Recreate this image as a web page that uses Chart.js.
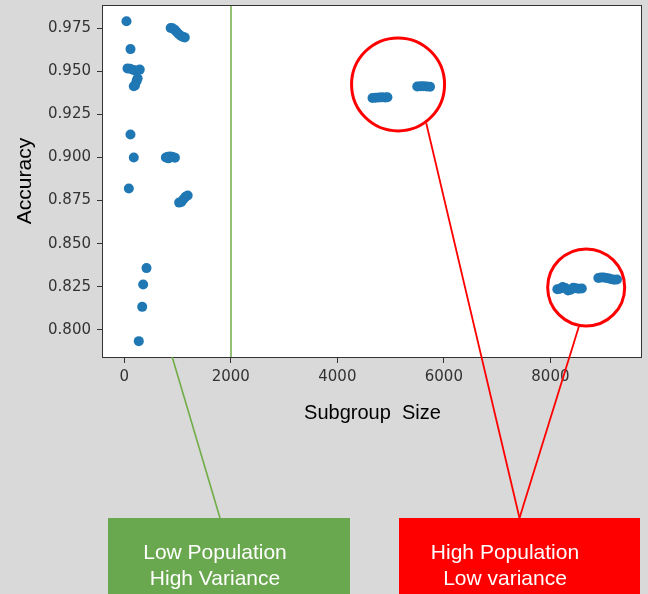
<!DOCTYPE html>
<html lang="en">
<head>
  <meta charset="UTF-8" />
  <title>Accuracy vs Subgroup Size</title>
  <script src="https://cdn.jsdelivr.net/npm/chart.js"></script>
  <style>
    * {
      margin: 0;
      padding: 0;
      box-sizing: border-box;
    }

    body {
      background-color: #d9d9d9;
      width: 648px;
      height: 594px;
      overflow: hidden;
    }
  </style>
</head>

<body>
  <canvas id="accChart" width="648" height="594"></canvas>

  <script>
    // subgroup sizes and the accuracy reached for each subgroup
    const subgroupSize = [
      41, 116, 60, 110, 170, 230, 290, 250, 230, 200, 178,
      116, 178, 85, 417, 354, 336, 272,
      870, 905, 945, 985, 1025, 1065, 1105, 1135,
      780, 820, 865, 910, 950, 830,
      1030, 1070, 1110, 1150, 1190,
      4660, 4720, 4780, 4840, 4900, 4940,
      5500, 5560, 5620, 5680, 5740,
      8130, 8180, 8230, 8280, 8330, 8380, 8430, 8480, 8530, 8590,
      8900, 8950, 9000, 9050, 9100, 9150, 9200, 9250
    ];
    const accuracy = [
      0.9791, 0.9629, 0.9517, 0.9515, 0.9508, 0.9505, 0.9510, 0.9460, 0.9443, 0.9418, 0.9413,
      0.9133, 0.9000, 0.8820, 0.8358, 0.8263, 0.8133, 0.7934,
      0.9752, 0.9750, 0.9742, 0.9728, 0.9715, 0.9705, 0.9699, 0.9697,
      0.9000, 0.9004, 0.9006, 0.9003, 0.8999, 0.8995,
      0.8738, 0.8742, 0.8758, 0.8772, 0.8779,
      0.9345, 0.9347, 0.9348, 0.9349, 0.9348, 0.9350,
      0.9412, 0.9414, 0.9413, 0.9412, 0.9411,
      0.8235, 0.8238, 0.8248, 0.8242, 0.8228, 0.8232, 0.8244, 0.8241, 0.8238, 0.8240,
      0.8300, 0.8303, 0.8303, 0.8301, 0.8298, 0.8293, 0.8291, 0.8292
    ];

    const xTicks = [0, 2000, 4000, 6000, 8000];
    const yTicks = [0.800, 0.825, 0.850, 0.875, 0.900, 0.925, 0.950, 0.975];

    const threshold = 2000;

    // highlighted clusters (centre in data units)
    const circleX = [5140, 8672];
    const circleY = [0.9424, 0.8246];

    const lowLabel = ['Low Population', 'High Variance'];
    const highLabel = ['High Population', 'Low variance'];

    const annotations = {
      id: 'annotations',
      beforeDraw(chart) {
        const { ctx, chartArea: a } = chart;
        ctx.save();
        ctx.fillStyle = '#ffffff';
        ctx.fillRect(a.left, a.top, a.width, a.height);
        ctx.restore();
      },
      beforeDatasetsDraw(chart) {
        const { ctx, chartArea: a, scales } = chart;
        const x = Math.round(scales.x.getPixelForValue(threshold));
        ctx.save();
        ctx.strokeStyle = '#70ad47';
        ctx.lineWidth = 1.5;
        ctx.beginPath();
        ctx.moveTo(x, a.top);
        ctx.lineTo(x, a.bottom);
        ctx.stroke();
        ctx.restore();
      },
      afterDraw(chart) {
        const { ctx, chartArea: a, scales } = chart;
        ctx.save();

        // frame round the plot
        ctx.strokeStyle = '#333';
        ctx.lineWidth = 1;
        ctx.strokeRect(a.left - 0.5, a.top + 0.5, a.width, a.height);

        // boxes at the bottom
        const boxTop = 518;
        const boxes = [
          { left: 108, right: 350, color: '#6aa84f', lines: lowLabel, textX: 215 },
          { left: 399, right: 640, color: '#ff0000', lines: highLabel, textX: 505 }
        ];
        boxes.forEach(b => {
          ctx.fillStyle = b.color;
          ctx.fillRect(b.left, boxTop, b.right - b.left, 594 - boxTop);
          ctx.fillStyle = '#ffffff';
          ctx.font = '21px "Liberation Sans", Arial, sans-serif';
          ctx.textAlign = 'center';
          ctx.textBaseline = 'alphabetic';
          ctx.fillText(b.lines[0], b.textX, 559);
          ctx.fillText(b.lines[1], b.textX, 585);
        });

        // green pointer from axis to the low box
        ctx.strokeStyle = '#70ad47';
        ctx.lineWidth = 1.6;
        ctx.beginPath();
        ctx.moveTo(scales.x.getPixelForValue(899), a.bottom);
        ctx.lineTo(220, boxTop);
        ctx.stroke();

        // red circles and pointers
        const radius = [46.5, 38.5];
        const angle = [54, 100.6];
        const target = { x: 519.5, y: boxTop };
        ctx.strokeStyle = '#ff0000';
        circleX.forEach((cx, i) => {
          const px = scales.x.getPixelForValue(cx);
          const py = scales.y.getPixelForValue(circleY[i]);
          ctx.lineWidth = 3;
          ctx.beginPath();
          ctx.arc(px, py, radius[i], 0, Math.PI * 2);
          ctx.stroke();

          const t = angle[i] * Math.PI / 180;
          ctx.lineWidth = 1.8;
          ctx.beginPath();
          ctx.moveTo(px + (radius[i] + 1.5) * Math.cos(t), py + (radius[i] + 1.5) * Math.sin(t));
          ctx.lineTo(target.x, target.y);
          ctx.stroke();
        });

        ctx.restore();
      }
    };

    const ctx = document.getElementById('accChart').getContext('2d');

    const accChart = new Chart(ctx, {
      type: 'scatter',
      data: {
        datasets: [{
          label: 'Accuracy',
          data: subgroupSize.map((s, i) => ({ x: s, y: accuracy[i] })),
          backgroundColor: '#1f77b4',
          borderWidth: 0,
          pointRadius: 5,
          pointHoverRadius: 5
        }]
      },
      options: {
        responsive: false,
        animation: false,
        devicePixelRatio: 1,
        layout: {
          padding: { top: 5, right: 6, left: 0, bottom: 0 }
        },
        plugins: {
          legend: { display: false },
          tooltip: { enabled: false }
        },
        scales: {
          x: {
            type: 'linear',
            min: -400,
            max: 9720,
            afterBuildTicks: s => { s.ticks = xTicks.map(v => ({ value: v })); },
            afterFit: s => {
              s.height = 237;
              s.paddingLeft = 0;
              s.paddingRight = 0;
            },
            border: { display: false },
            grid: { drawOnChartArea: false, tickLength: 6, tickColor: '#333' },
            ticks: {
              autoSkip: false,
              maxRotation: 0,
              padding: 5,
              color: '#333',
              font: { family: 'DejaVu Sans', size: 15 },
              callback: v => String(v)
            },
            title: {
              display: true,
              text: 'Subgroup  Size',
              color: '#000',
              font: { family: 'Liberation Sans', size: 20 },
              padding: { top: 0, bottom: 169 }
            }
          },
          y: {
            min: 0.7842,
            max: 0.9885,
            afterBuildTicks: s => { s.ticks = yTicks.map(v => ({ value: v })); },
            afterFit: s => {
              s.width = 103;
              s.paddingTop = 0;
              s.paddingBottom = 0;
            },
            border: { display: false },
            grid: { drawOnChartArea: false, tickLength: 6, tickColor: '#333' },
            ticks: {
              autoSkip: false,
              padding: 6,
              color: '#333',
              font: { family: 'DejaVu Sans', size: 15 },
              callback: v => v.toFixed(3)
            },
            title: {
              display: true,
              text: 'Accuracy',
              color: '#000',
              font: { family: 'Liberation Sans', size: 21 },
              padding: { top: 13, bottom: 0 }
            }
          }
        }
      },
      plugins: [annotations]
    });
  </script>

</body>
</html>
